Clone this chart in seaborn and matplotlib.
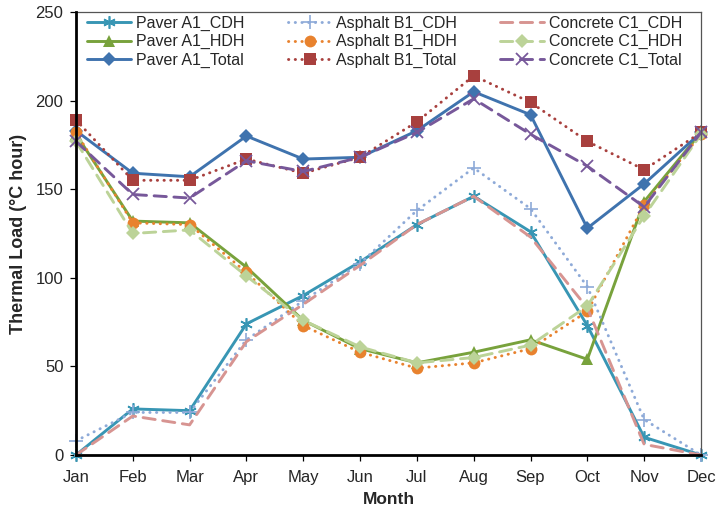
import numpy as np
import pandas as pd
import matplotlib
matplotlib.use("Agg")
import matplotlib.pyplot as plt
import seaborn as sns

sns.set_style("white")
plt.rcParams['font.family'] = ['Liberation Sans', 'DejaVu Sans']

# ----------------------------------------------------------
# monthly thermal load values

months = ["Jan", "Feb", "Mar", "Apr", "May", "Jun",
          "Jul", "Aug", "Sep", "Oct", "Nov", "Dec"]

paver_cdh = [0, 26, 25, 74, 90, 109, 130, 146, 126, 73, 10, 0]
paver_hdh = [181, 132, 131, 106, 76, 60, 52, 58, 65, 54, 143, 182]
paver_total = [183, 159, 157, 180, 167, 168, 183, 205, 192, 128, 153, 182]

asphalt_cdh = [8, 24, 24, 65, 87, 108, 138, 162, 139, 95, 20, 0]
asphalt_hdh = [182, 131, 130, 103, 73, 58, 49, 52, 60, 81, 141, 181]
asphalt_total = [189, 155, 155, 167, 159, 168, 188, 214, 199, 177, 161, 182]

concrete_cdh = [0, 22, 17, 64, 85, 107, 130, 146, 123, 83, 6, 0]
concrete_hdh = [177, 125, 127, 101, 76, 61, 52, 55, 62, 84, 135, 181]
concrete_total = [177, 147, 145, 166, 160, 168, 182, 201, 181, 163, 140, 182]

series_names = ["Paver A1_CDH", "Paver A1_HDH", "Paver A1_Total",
                "Asphalt B1_CDH", "Asphalt B1_HDH", "Asphalt B1_Total",
                "Concrete C1_CDH", "Concrete C1_HDH", "Concrete C1_Total"]
series_values = [paver_cdh, paver_hdh, paver_total,
                 asphalt_cdh, asphalt_hdh, asphalt_total,
                 concrete_cdh, concrete_hdh, concrete_total]

df = pd.DataFrame({"Month": months})
for name, vals in zip(series_names, series_values):
    df[name] = vals

# line styles (Excel look)
solid = "-"
dotted = (0, (0.1, 2.2))
dashed = (0, (4.2, 2.6))

styles = {
    "Paver A1_CDH":      dict(color="#3896B4", ls=solid, marker=(6, 2, 0), ms=9, mew=1.2),
    "Paver A1_HDH":      dict(color="#78A23C", ls=solid, marker="^", ms=8, mew=0),
    "Paver A1_Total":    dict(color="#3F73AE", ls=solid, marker="D", ms=7, mew=0),
    "Asphalt B1_CDH":    dict(color="#8EAAD8", ls=dotted, marker="+", ms=10, mew=1.2),
    "Asphalt B1_HDH":    dict(color="#E8822E", ls=dotted, marker="o", ms=8.5, mew=0),
    "Asphalt B1_Total":  dict(color="#A8403E", ls=dotted, marker="s", ms=8.5, mew=0),
    "Concrete C1_CDH":   dict(color="#D79491", ls=dashed, marker=None, ms=0, mew=0),
    "Concrete C1_HDH":   dict(color="#BCD398", ls=dashed, marker="D", ms=7, mew=0),
    "Concrete C1_Total": dict(color="#77589A", ls=dashed, marker="x", ms=9, mew=1.3),
}

fig = plt.figure(figsize=(7.18, 5.14), dpi=100)
ax = fig.add_axes([0.1058, 0.1148, 0.8705, 0.8619])

for name in series_names:
    st = styles[name]
    sns.lineplot(data=df, x="Month", y=name, ax=ax, sort=False,
                 color=st["color"], linestyle=st["ls"], linewidth=2.1,
                 marker=st["marker"], markersize=st["ms"], markeredgewidth=st["mew"],
                 markeredgecolor=st["color"], markerfacecolor=st["color"],
                 dash_capstyle="round", clip_on=False, label=name)

ax.set_xlim(0, len(months) - 1)
ax.set_ylim(0, 250)
ax.set_yticks(np.arange(0, 251, 50))
ax.set_xticks(range(len(months)))
ax.set_xticklabels(months)
ax.tick_params(axis="both", labelsize=12, length=4, width=0.9, color="black",
               direction="out", left=True, bottom=True, pad=5)
ax.tick_params(axis="x", pad=7)

ax.set_xlabel("Month", fontsize=12.5, fontweight="bold", labelpad=5)
ax.set_ylabel("Thermal Load (°C hour)", fontsize=13, fontweight="bold", labelpad=6)

for side in ["left", "bottom"]:
    ax.spines[side].set_color("black")
    ax.spines[side].set_linewidth(2)
    ax.spines[side].set_zorder(3)
for side in ["top", "right"]:
    ax.spines[side].set_color("#555555")
    ax.spines[side].set_linewidth(0.9)

handles, labels = ax.get_legend_handles_labels()
ax.legend(handles, labels, ncol=3, loc="upper left", bbox_to_anchor=(0.012, 1.0),
          frameon=False, fontsize=11.5, handlelength=2.75, handletextpad=0.3,
          columnspacing=2.7, labelspacing=0.2, borderaxespad=0, borderpad=0.25,
          numpoints=1)

fig.savefig("out.png", dpi=100)
